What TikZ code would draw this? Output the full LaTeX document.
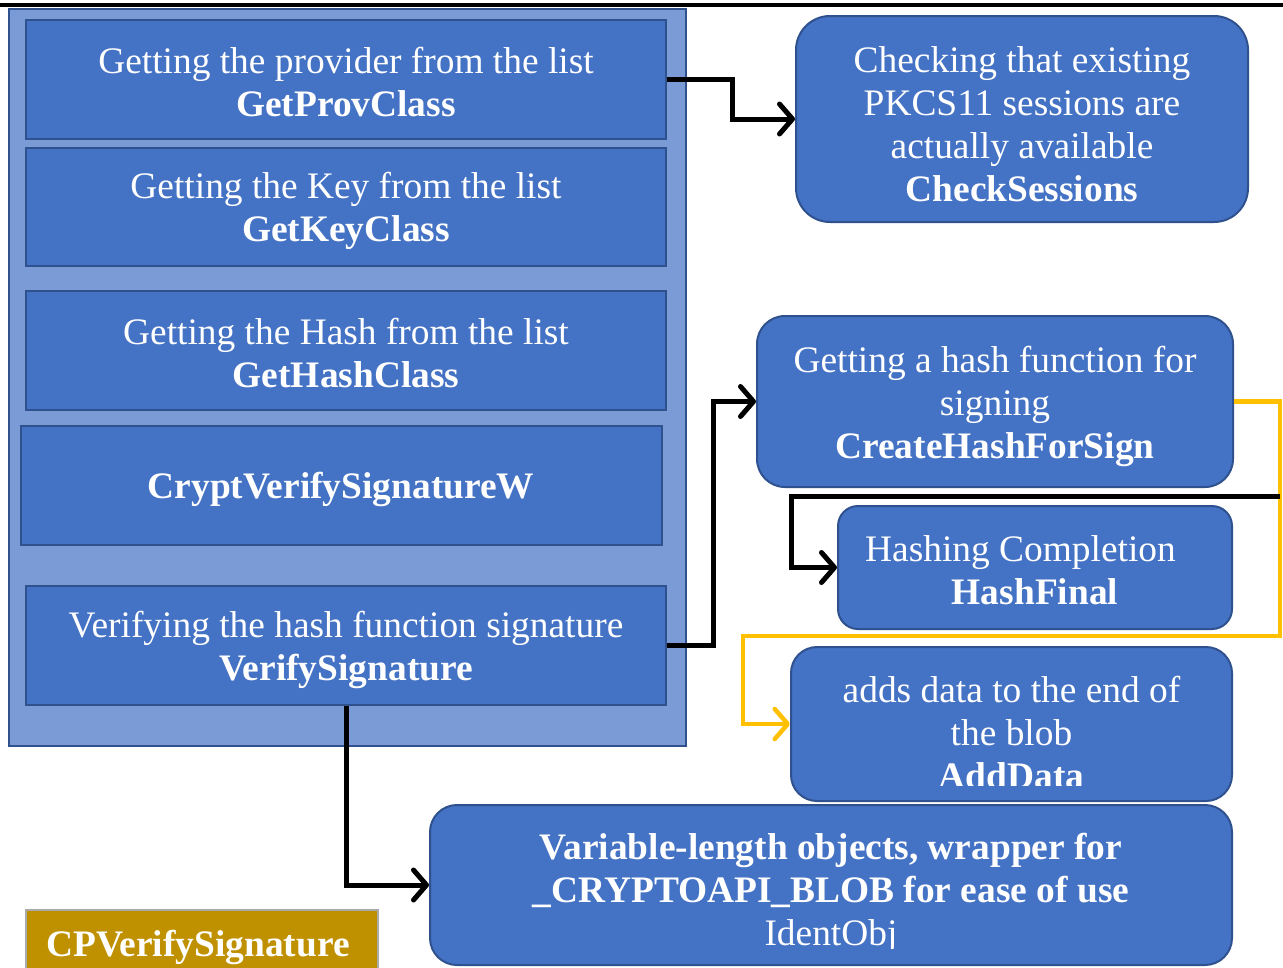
\documentclass[tikz,border=0pt]{standalone}
\usepackage{fontspec}
\setmainfont{Liberation Serif}
\usetikzlibrary{arrows.meta}

\definecolor{boxfill}{RGB}{68,114,196}
\definecolor{boxline}{RGB}{47,82,143}
\definecolor{outerfill}{RGB}{122,155,214}
\definecolor{goldfill}{RGB}{191,144,0}
\definecolor{goldline}{RGB}{170,170,170}
\definecolor{flowyellow}{RGB}{255,192,0}

\tikzset{
  txt/.style={text=white, align=center, inner sep=0pt,
    font=\fontsize{37.4}{43}\selectfont},
  flatbox/.style={draw=boxline, fill=boxfill, line width=2pt, rectangle,
    inner sep=0pt},
  roundbox/.style={flatbox, rounded corners=#1},
  roundbox/.default=28pt,
  outerbox/.style={draw=boxline, fill=outerfill, line width=2pt, rectangle, inner sep=0pt},
  goldbox/.style={draw=goldline, fill=goldfill, line width=1.5pt, rectangle, inner sep=0pt},
  conn/.style={draw=black, line width=5pt,
    -{Straight Barb[length=13pt,width=30pt,round]}},
  yconn/.style={conn, draw=flowyellow, line width=4.5pt},
}

\begin{document}
\begin{tikzpicture}[x=1pt,y=-1pt]
  \clip (0,0) rectangle (1283,967);
  \fill[white] (0,0) rectangle (1283,967);

  % top rule
  \draw[line width=4pt] (0,5) -- (1283,5);

  % container of the CPVerifySignature steps
  \node[outerbox, minimum width=677pt, minimum height=737pt] (outer) at (347.5,377.5) {};

  \node[flatbox, minimum width=640pt, minimum height=119pt] (prov) at (346,79.5) {};
  \node[txt] at (346,82) {Getting the provider from the list\\\textbf{GetProvClass}};

  \node[flatbox, minimum width=640pt, minimum height=118pt] (key) at (346,207) {};
  \node[txt] at (346,210.5) {Getting the Key from the list\\\textbf{GetKeyClass}};

  \node[flatbox, minimum width=640pt, minimum height=119pt] (hash) at (346,350.5) {};
  \node[txt] at (346,353) {Getting the Hash from the list\\\textbf{GetHashClass}};

  \node[flatbox, minimum width=641pt, minimum height=119pt] (cvs) at (341.5,485.5) {};
  \node[txt] at (341,489) {\textbf{CryptVerifySignatureW}};

  \node[flatbox, minimum width=640pt, minimum height=119pt] (ver) at (346,645.5) {};
  \node[txt] at (346,649.5) {Verifying the hash function signature\\\textbf{VerifySignature}};

  % called helpers
  \node[roundbox=34pt, minimum width=452pt, minimum height=206pt] (check) at (1022,119) {};
  \node[txt] at (1022,124.5)
    {Checking that existing\\PKCS11 sessions are\\actually available\\\textbf{CheckSessions}};

  \node[roundbox=28pt, minimum width=476pt, minimum height=171pt] (cfs) at (995,401.5) {};
  \node[txt] at (995,406.5)
    {Getting a hash function for\\signing\\\textbf{CreateHashForSign}};

  \node[roundbox=20pt, minimum width=394pt, minimum height=123pt] (hf) at (1035,567.5) {};
  \node[txt] at (1035,570.5) {Hashing Completion\hspace*{29pt}\\\textbf{HashFinal}};

  \node[roundbox=26pt, minimum width=441pt, minimum height=154pt] (add) at (1011.5,724) {};
  \begin{scope}
    \clip (791,647) rectangle (1232,785);
    \node[txt] at (1011.5,733)
      {adds data to the end of\\the blob\\\textbf{AddData}};
  \end{scope}

  \node[roundbox=27pt, minimum width=802pt, minimum height=160pt] (ident) at (831,885) {};
  \begin{scope}
    \clip (430,805) rectangle (1232,948);
    \node[txt] at (831,893.5)
      {\textbf{Variable-length objects, wrapper for}\\\textbf{\_CRYPTOAPI\_BLOB for ease of use}\\IdentObj};
  \end{scope}

  % function name tag
  \node[goldbox, minimum width=352pt, minimum height=66pt] (tag) at (202,943) {};
  \node[txt, anchor=base] at (198,956) {\textbf{CPVerifySignature}};

  % connectors
  \draw[conn] (prov.east) -- ++(65,0) |- (check.west);
  \draw[conn] (ver.east) -- ++(46,0) |- (cfs.west);
  \draw[conn] (ver.south) |- (ident.west);
  \draw[yconn] (cfs.east) -- (1280,401.5) |- (743,636) |- (add.west);
  \coordinate (tap) at (1280,496);
  \draw[conn] (tap) -- (791,496) |- (hf.west);
\end{tikzpicture}
\end{document}
